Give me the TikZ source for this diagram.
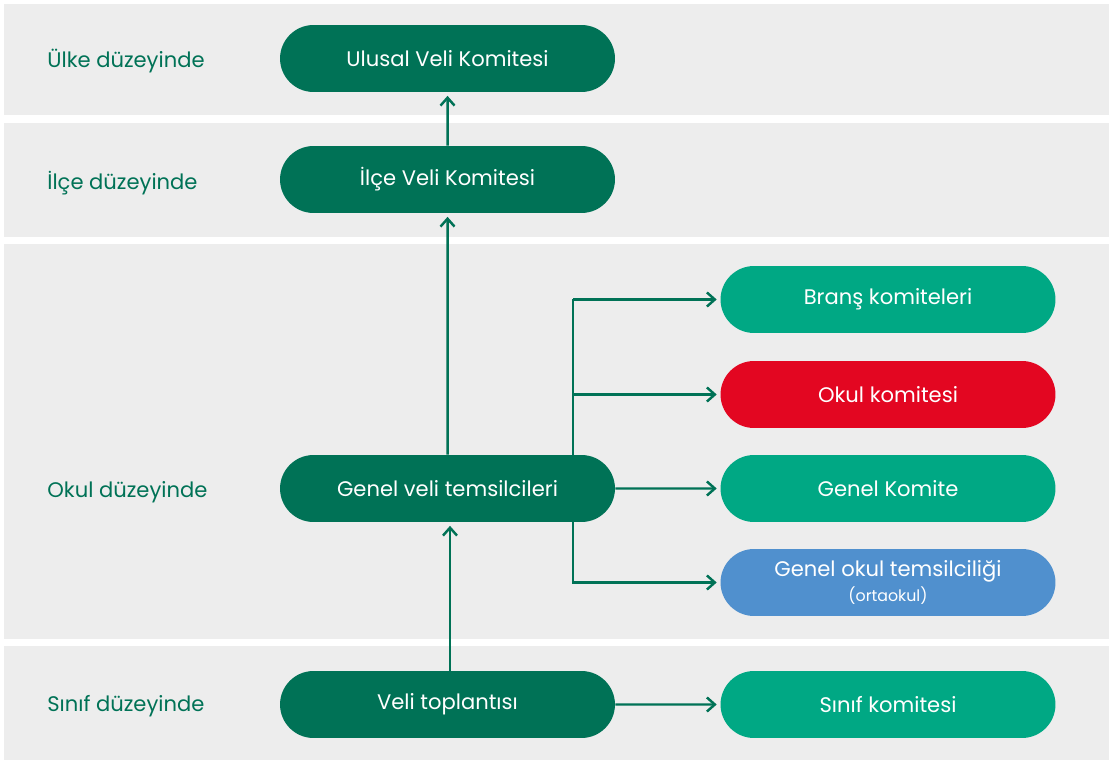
\documentclass[tikz,border=0pt]{standalone}
\usepackage{fontspec}
\setmainfont{Poppins}
\usetikzlibrary{positioning,arrows.meta,shapes.misc}
\definecolor{koyuyesil}{RGB}{0,114,86}
\definecolor{acikyesil}{RGB}{0,168,132}
\definecolor{kirmizi}{RGB}{227,6,33}
\definecolor{mavi}{RGB}{80,144,206}
\definecolor{bantgri}{RGB}{237,237,237}

\begin{document}
\begin{tikzpicture}[x=0.02cm,y=-0.02cm,
    kurul/.style={rounded rectangle,minimum width=6.7cm,minimum height=1.34cm,
      inner sep=0pt,text=white,font=\fontsize{12}{14}\selectfont},
    duzey/.style={anchor=west,inner sep=0pt,text=koyuyesil,font=\fontsize{12}{14}\selectfont},
    ok/.style={draw=koyuyesil,line width=1.4pt,
      -{Straight Barb[length=4.5pt,width=8pt,line width=1.4pt]},shorten >=2pt},
    hat/.style={draw=koyuyesil,line width=1.4pt}]
\useasboundingbox (0,0) rectangle (1109,760);
% bands
\fill[bantgri] (4,4) rectangle (1109,115);
\fill[bantgri] (4,123) rectangle (1109,237);
\fill[bantgri] (4,244) rectangle (1109,639);
\fill[bantgri] (4,646) rectangle (1109,760);
\node[duzey] (ulke) at (47,61) {Ülke düzeyinde};
\node[duzey] (ilce) at (47,183) {İlçe düzeyinde};
\node[duzey] (okul) at (47,492) {Okul düzeyinde};
\node[duzey] (sinif) at (47,706) {Sınıf düzeyinde};
% left column
\node[kurul,fill=koyuyesil] (ulusal) at (447.5,58.5) {Ulusal Veli Komitesi};
\node[kurul,fill=koyuyesil] (ilcekom) at (447.5,179.5) {İlçe Veli Komitesi};
\node[kurul,fill=koyuyesil] (temsil) at (447.5,488.5) {Genel veli temsilcileri};
\node[kurul,fill=koyuyesil] (toplanti) at (447.5,704.5) {Veli toplantısı};
% right column
\node[kurul,fill=acikyesil] (brans) at (888,299.5) {Branş komiteleri};
\node[kurul,fill=kirmizi] (okulkom) at (888,394.5) {Okul komitesi};
\node[kurul,fill=acikyesil] (genelkom) at (888,488.5) {Genel Komite};
\node[kurul,fill=mavi,align=center] (ortaokul) at (888,582.5)
  {Genel okul temsilciliği\\[0pt]{\fontsize{9}{10}\selectfont(ortaokul)}};
\node[kurul,fill=acikyesil] (sinifkom) at (888,704.5) {Sınıf komitesi};
% connectors
\coordinate (kol) at (573,0);
\draw[ok] (ilcekom) -- (ulusal);
\draw[ok] (temsil) -- (ilcekom);
\draw[ok] (toplanti.north -| 450,0) -- (temsil.south -| 450,0);
\draw[ok] (temsil) -- (genelkom);
\draw[ok] (toplanti) -- (sinifkom);
\draw[hat] (temsil.north -| kol) -- (brans -| kol);
\draw[ok] (brans -| kol) -- (brans);
\draw[ok] (okulkom -| kol) -- (okulkom);
\draw[ok] (temsil.south -| kol) |- (ortaokul);
\end{tikzpicture}
\end{document}
